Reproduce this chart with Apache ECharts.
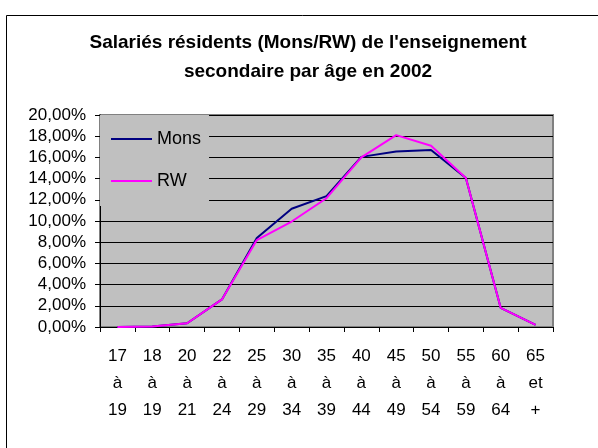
<!DOCTYPE html>
<html>
<head>
<meta charset="utf-8">
<script src="https://cdn.jsdelivr.net/npm/echarts@6/dist/echarts.min.js"></script>
<style>
html, body { margin: 0; padding: 0; background: #fff; }
#chart { width: 598px; height: 448px; }
</style>
</head>
<body>
<div id="chart"></div>
<script>
// tranches d'âge
const ages = ['17\nà\n19', '18\nà\n19', '20\nà\n21', '22\nà\n24', '25\nà\n29', '30\nà\n34',
    '35\nà\n39', '40\nà\n44', '45\nà\n49', '50\nà\n54', '55\nà\n59', '60\nà\n64', '65\net\n+']
// parts en %
const mons = [0, 0.05, 0.35, 2.6, 8.4, 11.15, 12.35, 16.05, 16.55, 16.7, 14.05, 1.8, 0.2]
const rw = [0, 0.05, 0.35, 2.6, 8.2, 9.95, 12.15, 16.0, 18.1, 17.1, 14.05, 1.8, 0.2]

const font = "'Liberation Sans', Arial, sans-serif"

let chart = echarts.init(document.getElementById('chart'))
let option = {
    animation: false,
    title: {
        text: "Salariés résidents (Mons/RW) de l'enseignement\nsecondaire par âge en 2002",
        left: 308,
        top: 28,
        padding: 0,
        textAlign: 'center',
        textStyle: {
            fontFamily: font,
            fontSize: 19,
            fontWeight: 'bold',
            color: '#000',
            lineHeight: 29
        }
    },
    graphic: [{
        type: 'rect',
        z: -10,
        shape: { x: 6.5, y: 15.5, width: 700, height: 500 },
        style: { fill: '#fff', stroke: '#000', lineWidth: 1 }
    }],
    legend: {
        orient: 'vertical',
        left: 100,
        top: 115,
        padding: [15, 8, 16, 11],
        itemGap: 24,
        itemWidth: 41,
        itemHeight: 2,
        icon: 'rect',
        backgroundColor: '#C0C0C0',
        textStyle: { fontFamily: font, fontSize: 18, color: '#000' },
        data: ['Mons', 'RW']
    },
    grid: {
        left: 100,
        top: 115,
        right: 45,
        bottom: 121,
        show: true,
        backgroundColor: '#C0C0C0',
        borderColor: '#808080',
        borderWidth: 2
    },
    xAxis: {
        type: 'category',
        data: ages,
        boundaryGap: true,
        axisLine: { lineStyle: { color: '#000', width: 1 } },
        axisTick: { show: true, length: 5, lineStyle: { color: '#000' } },
        axisLabel: {
            interval: 0,
            margin: 16,
            fontFamily: font,
            fontSize: 17,
            lineHeight: 27,
            color: '#000'
        },
        splitLine: { show: false }
    },
    yAxis: {
        type: 'value',
        min: 0,
        max: 20,
        interval: 2,
        axisLine: { show: true, lineStyle: { color: '#000', width: 1 } },
        axisTick: { show: true, length: 5, lineStyle: { color: '#000' } },
        axisLabel: {
            margin: 14,
            fontFamily: font,
            fontSize: 17,
            color: '#000',
            formatter: v => v.toFixed(2).replace('.', ',') + '%'
        },
        splitLine: { show: true, lineStyle: { color: '#000', width: 1 } }
    },
    series: [{
        name: 'Mons',
        type: 'line',
        data: mons,
        symbol: 'none',
        color: '#000080',
        lineStyle: { color: '#000080', width: 2 }
    }, {
        name: 'RW',
        type: 'line',
        data: rw,
        symbol: 'none',
        color: '#FF00FF',
        lineStyle: { color: '#FF00FF', width: 2 }
    }]
}
chart.setOption(option)
</script>
</body>
</html>
